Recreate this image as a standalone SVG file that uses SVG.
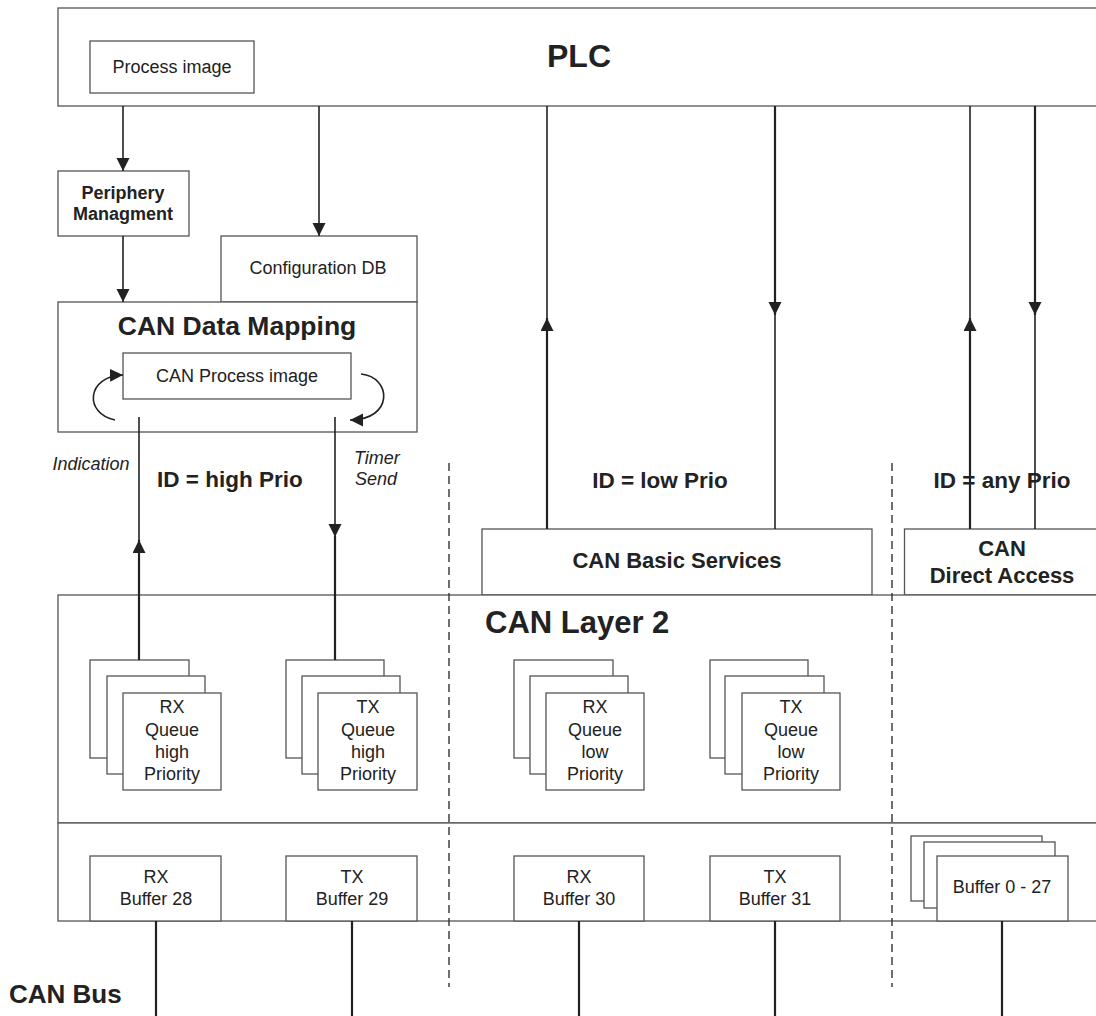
<svg xmlns="http://www.w3.org/2000/svg" width="1096" height="1016" viewBox="0 0 1096 1016">
<defs>
<style>
.box{fill:#fff;stroke:#555;stroke-width:1.3}
.ln{fill:none;stroke:#222;stroke-width:1.6}
.thk{fill:none;stroke:#222;stroke-width:2.2}
.dash{fill:none;stroke:#333;stroke-width:1.4;stroke-dasharray:8 5}
text{font-family:"Liberation Sans",Arial,sans-serif;fill:#222}
.t{font-size:18px;text-anchor:middle}
.b{font-weight:bold}
.c{text-anchor:middle}
.i{font-style:italic;font-size:18px}
</style>
<marker id="ah" markerUnits="userSpaceOnUse" markerWidth="14" markerHeight="14" refX="13" refY="6.5" orient="auto">
<path d="M0,0 L13,6.5 L0,13 z" fill="#222"/>
</marker>
</defs>
<rect width="1096" height="1016" fill="#fff"/>

<g id="plc">
<rect class="box" x="58" y="8" width="1050" height="98"/>
<text class="b c" x="579" y="67" font-size="32">PLC</text>
</g>
<g id="process-image">
<rect class="box" x="90" y="41" width="164" height="52"/>
<text class="t" x="172" y="73">Process image</text>
</g>
<g id="periphery">
<rect class="box" x="58" y="171" width="131" height="65"/>
<text class="t b" x="123" y="199">Periphery</text>
<text class="t b" x="123" y="220">Managment</text>
</g>
<g id="config-db">
<rect class="box" x="221" y="236" width="196" height="66"/>
<text class="t" x="318" y="274">Configuration DB</text>
</g>
<g id="can-data-mapping">
<rect class="box" x="58" y="302" width="359" height="130"/>
<text class="b c" x="237" y="335" font-size="26.5">CAN Data Mapping</text>
</g>
<g id="can-process-image">
<rect class="box" x="123" y="353" width="228" height="46"/>
<text class="t" x="237" y="382">CAN Process image</text>
</g>

<g id="labels">
<text class="i" x="91" y="470" text-anchor="middle">Indication</text>
<text class="i" x="354" y="464">Timer</text>
<text class="i" x="355" y="485">Send</text>
<text class="b" x="157" y="487" font-size="22.5">ID = high Prio</text>
<text class="b c" x="660" y="488" font-size="22.5">ID = low Prio</text>
<text class="b c" x="1002" y="488" font-size="22.5">ID = any Prio</text>
<text class="b" x="9" y="1003" font-size="26">CAN Bus</text>
</g>

<g id="can-basic-services">
<rect class="box" x="482" y="529" width="390" height="66"/>
<text class="b c" x="677" y="568" font-size="22">CAN Basic Services</text>
</g>
<g id="can-direct-access">
<rect class="box" x="904.5" y="529" width="200" height="66"/>
<text class="b c" x="1002" y="556" font-size="22">CAN</text>
<text class="b c" x="1002" y="583" font-size="22">Direct Access</text>
</g>

<g id="can-layer-2">
<rect class="box" x="58" y="595" width="1050" height="228"/>
<text class="b" x="485" y="633" font-size="31">CAN Layer 2</text>
</g>
<g id="buffer-layer">
<rect class="box" x="58" y="823" width="1050" height="98"/>
</g>

<g id="rx-queue-high">
<rect class="box" x="90" y="660" width="99" height="98"/>
<rect class="box" x="107" y="676" width="98" height="98"/>
<rect class="box" x="123" y="693" width="98" height="97"/>
<text class="t" x="172" y="713">RX</text>
<text class="t" x="172" y="736">Queue</text>
<text class="t" x="172" y="758">high</text>
<text class="t" x="172" y="780">Priority</text>
</g>
<g id="tx-queue-high">
<rect class="box" x="286" y="660" width="98" height="98"/>
<rect class="box" x="302" y="676" width="98" height="98"/>
<rect class="box" x="318" y="693" width="99" height="97"/>
<text class="t" x="368" y="713">TX</text>
<text class="t" x="368" y="736">Queue</text>
<text class="t" x="368" y="758">high</text>
<text class="t" x="368" y="780">Priority</text>
</g>
<g id="rx-queue-low">
<rect class="box" x="514" y="660" width="99" height="98"/>
<rect class="box" x="530" y="676" width="98" height="98"/>
<rect class="box" x="546" y="693" width="98" height="97"/>
<text class="t" x="595" y="713">RX</text>
<text class="t" x="595" y="736">Queue</text>
<text class="t" x="595" y="758">low</text>
<text class="t" x="595" y="780">Priority</text>
</g>
<g id="tx-queue-low">
<rect class="box" x="710" y="660" width="98" height="98"/>
<rect class="box" x="725" y="676" width="99" height="98"/>
<rect class="box" x="742" y="693" width="98" height="97"/>
<text class="t" x="791" y="713">TX</text>
<text class="t" x="791" y="736">Queue</text>
<text class="t" x="791" y="758">low</text>
<text class="t" x="791" y="780">Priority</text>
</g>

<g id="rx-buffer-28">
<rect class="box" x="90" y="856" width="131" height="65"/>
<text class="t" x="156" y="883">RX</text>
<text class="t" x="156" y="905">Buffer 28</text>
</g>
<g id="tx-buffer-29">
<rect class="box" x="286" y="856" width="131" height="65"/>
<text class="t" x="352" y="883">TX</text>
<text class="t" x="352" y="905">Buffer 29</text>
</g>
<g id="rx-buffer-30">
<rect class="box" x="514" y="856" width="130" height="65"/>
<text class="t" x="579" y="883">RX</text>
<text class="t" x="579" y="905">Buffer 30</text>
</g>
<g id="tx-buffer-31">
<rect class="box" x="710" y="856" width="130" height="65"/>
<text class="t" x="775" y="883">TX</text>
<text class="t" x="775" y="905">Buffer 31</text>
</g>
<g id="buffer-0-27">
<rect class="box" x="911" y="836" width="131" height="65"/>
<rect class="box" x="924" y="842" width="131" height="66"/>
<rect class="box" x="937" y="856" width="131" height="65"/>
<text class="t" x="1002" y="893">Buffer 0 - 27</text>
</g>

<g id="connectors">
<line class="ln" x1="123" y1="106" x2="123" y2="171" marker-end="url(#ah)"/>
<line class="ln" x1="123" y1="236" x2="123" y2="302" marker-end="url(#ah)"/>
<line class="ln" x1="319" y1="106" x2="319" y2="236" marker-end="url(#ah)"/>

<line class="thk" x1="139" y1="660" x2="139" y2="540" marker-end="url(#ah)"/>
<line class="ln" x1="139" y1="541" x2="139" y2="417"/>
<line class="ln" x1="335" y1="417" x2="335" y2="537" marker-end="url(#ah)"/>
<line class="thk" x1="335" y1="536" x2="335" y2="660"/>

<line class="thk" x1="547" y1="529" x2="547" y2="318" marker-end="url(#ah)"/>
<line class="ln" x1="547" y1="319" x2="547" y2="106"/>
<line class="thk" x1="775" y1="106" x2="775" y2="315" marker-end="url(#ah)"/>
<line class="ln" x1="775" y1="314" x2="775" y2="529"/>
<line class="thk" x1="970" y1="529" x2="970" y2="318" marker-end="url(#ah)"/>
<line class="ln" x1="970" y1="319" x2="970" y2="106"/>
<line class="thk" x1="1035" y1="106" x2="1035" y2="315" marker-end="url(#ah)"/>
<line class="ln" x1="1035" y1="314" x2="1035" y2="529"/>

<path class="ln" d="M115,420 C84,414 86,376 123,375" marker-end="url(#ah)"/>
<path class="ln" d="M361,374 C392,377 394,420 350,420" marker-end="url(#ah)"/>

<line class="thk" x1="156" y1="921" x2="156" y2="1016"/>
<line class="thk" x1="352" y1="921" x2="352" y2="1016"/>
<line class="thk" x1="579" y1="921" x2="579" y2="1016"/>
<line class="thk" x1="775" y1="921" x2="775" y2="1016"/>
<line class="thk" x1="1002" y1="921" x2="1002" y2="1016"/>

<line class="dash" x1="449" y1="463" x2="449" y2="987"/>
<line class="dash" x1="892" y1="463" x2="892" y2="987"/>
</g>
</svg>
